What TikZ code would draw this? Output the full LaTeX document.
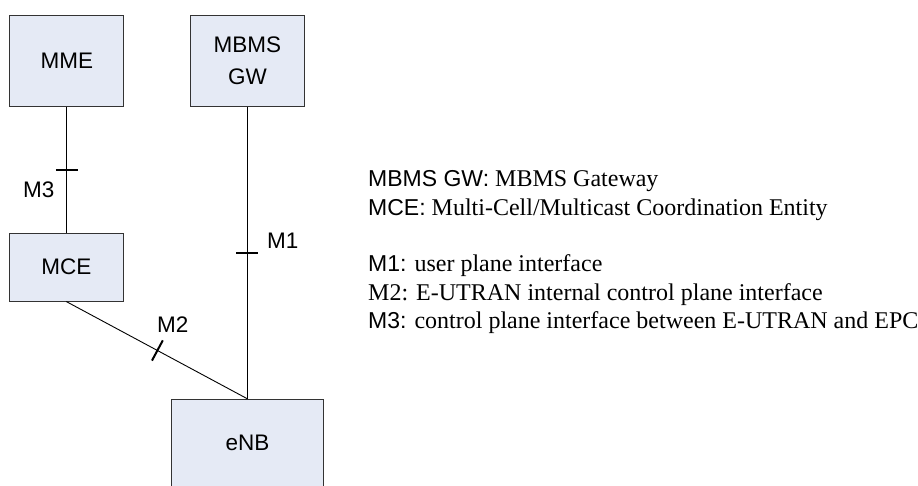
\documentclass[tikz,border=0pt]{standalone}
\usepackage{fontspec}
\setmainfont{Liberation Serif}
\setsansfont{Liberation Sans}
\usetikzlibrary{calc}
\definecolor{boxfill}{HTML}{E5EAF5}
\definecolor{boxline}{HTML}{333333}
\tikzset{
  ent/.style={draw=boxline, fill=boxfill, line width=1pt, inner sep=0pt,
    font=\sffamily\fontsize{22.5}{32}\selectfont, align=center},
  conn/.style={line width=0.9pt, black},
  tickline/.style={line width=2pt, black},
  lbl/.style={font=\sffamily\fontsize{22.5}{27}\selectfont, inner sep=0pt, anchor=base west},
  legend/.style={inner sep=0pt, anchor=base west, font=\rmfamily\fontsize{24}{28}\selectfont},
}
\newcommand{\pre}[1]{{\sffamily\fontsize{23}{28}\selectfont #1}}
\begin{document}
\begin{tikzpicture}[x=1pt, y=-1pt]
\clip (0,0) rectangle (918,485);
\fill[white] (0,0) rectangle (918,485);
% boxes
\node[ent, minimum width=113.7pt, minimum height=91pt] (mme) at (66.8,61.2) {MME};
\node[ent, minimum width=113.3pt, minimum height=91pt] (gw) at (247.4,61.2) {MBMS\\GW};
\node[ent, minimum width=113.7pt, minimum height=67.7pt] (mce) at (66.3,267.2) {MCE};
\node[ent, minimum width=151.6pt, minimum height=88pt] (enb) at (247.4,443.3) {eNB};
% connectors
\draw[conn] (mme.south) -- coordinate[pos=0.5] (t3) (mme.south |- mce.north);
\draw[conn] (gw.south) -- coordinate[pos=0.5] (t1) (enb.north);
\draw[conn] (mce.south) -- coordinate[pos=0.503] (t2) (enb.north);
% ticks
\draw[tickline] ($(t3)+(-11,0)$) -- ($(t3)+(11,0)$);
\draw[tickline] ($(t1)+(-11,0)$) -- ($(t1)+(11,0)$);
\draw[tickline] ($(t2)!11.5pt!90:(enb.north)$) -- ($(t2)!11.5pt!-90:(enb.north)$);
% labels
\node[lbl] (l3) at (23,197) {M3};
\node[lbl] (l1) at (267,248) {M1};
\node[lbl] (l2) at (157,332) {M2};
% legend
\node[legend] (g1) at (368,186.7) {\pre{MBMS GW:} MBMS Gateway};
\node[legend] (g2) at (368,215) {\pre{MCE:} Multi-Cell/Multicast Coordination Entity};
\node[legend] (g3) at (368,271.7) {\pre{M1:} user plane interface};
\node[legend] (g4) at (368,300) {M2: E-UTRAN internal control plane interface};
\node[legend] (g5) at (368,328.3) {\pre{M3:} control plane interface between E-UTRAN and EPC};
\end{tikzpicture}
\end{document}
